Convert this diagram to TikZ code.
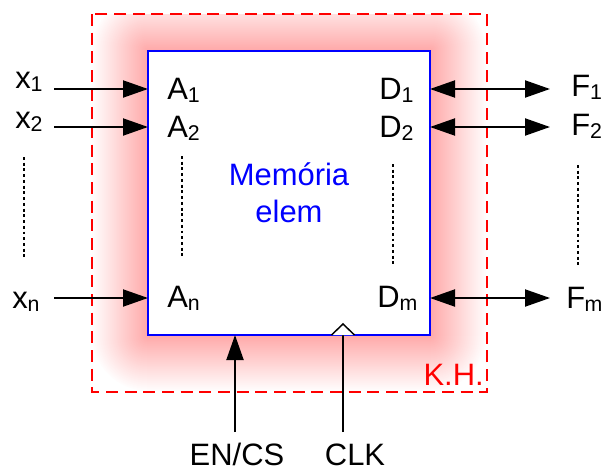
\documentclass[tikz,border=0pt]{standalone}
\usepackage{fontspec}
\setmainfont{Liberation Sans}
\usetikzlibrary{arrows.meta}
\newcommand{\sbs}[1]{\raisebox{-2.5pt}{\fontsize{16}{18}\selectfont #1}}
\tikzset{
  lbl/.style={inner sep=0pt, font=\fontsize{23.2}{27}\selectfont},
  sig/.style={line width=1.5pt, -{Triangle[length=18.75pt,width=12.75pt]}},
  bidir/.style={line width=1.5pt, {Triangle[length=18.75pt,width=12.75pt]}-{Triangle[length=18.75pt,width=12.75pt]}},
  vdots/.style={line width=1.5pt, dash pattern=on 2.2pt off 2.1pt},
  membox/.style={draw=blue, line width=1.4pt, fill=white, inner sep=0pt, outer sep=0pt,
    minimum width=211.5pt, minimum height=213pt},
  khbox/.style={draw=red, line width=1.5pt, dash pattern=on 9pt off 5pt},
}
\begin{document}
\begin{tikzpicture}[x=0.75pt,y=-0.75pt]
\useasboundingbox (0,0) rectangle (602,471);
% glow
\begin{scope}
  \clip (92,14) rectangle (487,392);
  \foreach \d in {56,55,...,1}{
    \pgfmathsetmacro\c{34*(1-\d/57)}
    \fill[red!\c, rounded corners=\d*0.75pt] (148-\d,51-\d) rectangle (430+\d,335+\d);
  }
\end{scope}
\draw[khbox] (92,14) rectangle (487,392);
\node[membox] (box) at (289,193) {};
% memory text
\node[lbl, text=blue, anchor=base] (mem1) at (289,185) {Memória};
\node[lbl, text=blue, anchor=base] (mem2) at (289,222) {elem};
% inputs
\node[lbl, anchor=base west] (x1) at (15,88) {x\sbs{1}};
\node[lbl, anchor=base west] (x2) at (15,128) {x\sbs{2}};
\node[lbl, anchor=base west] (xn) at (12,308) {x\sbs{n}};
\node[lbl, anchor=base west] (a1) at (167,99) {A\sbs{1}};
\node[lbl, anchor=base west] (a2) at (167,137) {A\sbs{2}};
\node[lbl, anchor=base west] (an) at (167,307) {A\sbs{n}};
\node[lbl, anchor=base west] (d1) at (379,99) {D\sbs{1}};
\node[lbl, anchor=base west] (d2) at (379,137) {D\sbs{2}};
\node[lbl, anchor=base west] (dm) at (377,307) {D\sbs{m}};
\node[lbl, anchor=base west] (f1) at (571,96) {F\sbs{1}};
\node[lbl, anchor=base west] (f2) at (571,135) {F\sbs{2}};
\node[lbl, anchor=base west] (fm) at (566,308) {F\kern-0.5pt\sbs{m}};
\node[lbl, anchor=base] (en) at (237,465) {EN/CS};
\node[lbl, anchor=base] (clk) at (355,465) {CLK};
\node[lbl, text=red, anchor=base east] (kh) at (484,385) {K.H.};
% connector endpoints
\coordinate (s1) at (54,89);
\coordinate (s2) at (54,127);
\coordinate (sn) at (54,298);
\coordinate (e1) at (550,89);
\coordinate (e2) at (550,127);
\coordinate (em) at (550,298);
\coordinate (ens) at (235,432);
\coordinate (clks) at (343,432);
\draw[sig] (s1) -- (s1 -| box.west);
\draw[sig] (s2) -- (s2 -| box.west);
\draw[sig] (sn) -- (sn -| box.west);
\draw[bidir] (e1 -| box.east) -- (e1);
\draw[bidir] (e2 -| box.east) -- (e2);
\draw[bidir] (em -| box.east) -- (em);
\draw[sig] (ens) -- (ens |- box.south);
\draw[line width=1.5pt] (clks) -- (clks |- box.south);
\draw[line width=1.1pt, fill=white] (331.5,335) -- (343,324) -- (354.5,335);
% dotted ellipses
\draw[vdots] (24,157) -- (24,258);
\draw[vdots] (182,156) -- (182,258);
\draw[vdots] (393,164) -- (393,266);
\draw[vdots] (578,165) -- (578,266);
\end{tikzpicture}
\end{document}
